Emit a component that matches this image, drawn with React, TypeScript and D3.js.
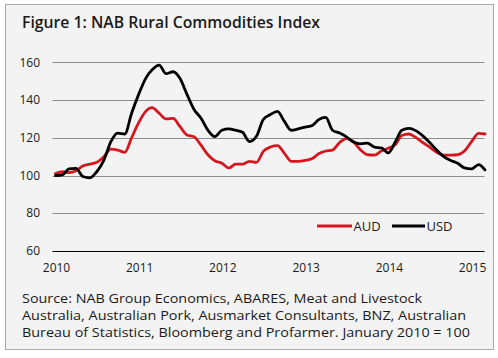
import React from 'react';
import * as d3 from 'd3';

// monthly index values, Jan 2010 to Mar 2015 (Jan 2010 = 100)
const months: Date[] = d3.timeMonth.range(new Date(2010, 0, 1), new Date(2015, 3, 1));

const aud = [
  101, 102, 101.5, 102.5, 105, 106, 107, 110, 114, 113.5, 112.3, 120,
  128, 134, 136, 133, 130, 130.3, 126, 121.5, 120.6, 116.2, 111, 107.8,
  106.5, 104, 106, 106, 107.5, 107, 112.8, 115.1, 115.8, 111.9, 107.5, 107.5,
  108, 109, 111.5, 113, 113.5, 117.5, 119.6, 117.8, 113.5, 111, 110.8, 113,
  114.5, 116.5, 121.2, 122, 120.2, 117.5, 115, 112.3, 110.8, 110.8, 111, 113,
  118, 122.3, 122,
];

const usd = [
  100, 100.4, 103.5, 103.8, 99.5, 98.8, 102, 108, 118, 122.5, 122, 133,
  143, 151.5, 156, 158.5, 154, 155, 151.5, 143, 135, 130.5, 124, 120.6,
  124, 124.7, 124, 122.9, 118, 120.8, 129.7, 132.3, 134, 128.8, 124, 124.7,
  125.7, 126.5, 129.6, 130.8, 124, 122.5, 120.5, 117.8, 116.8, 117.2, 115, 114.6,
  112, 118, 124, 125, 123.8, 121, 117.5, 113.5, 110, 108, 106.5, 104,
  103.5, 105.8, 103,
];

const yTicks = [60, 80, 100, 120, 140, 160];
const years = [2010, 2011, 2012, 2013, 2014, 2015];

const title = 'Figure 1: NAB Rural Commodities Index';
const sourceLines = [
  'Source: NAB Group Economics, ABARES, Meat and Livestock',
  'Australia, Australian Pork, Ausmarket Consultants, BNZ, Australian',
  'Bureau of Statistics, Bloomberg and Profarmer. January 2010 = 100',
];
const sourceWidths = [400, 444, 448];

const series = [
  { name: 'AUD', values: aud, color: '#d4161e' },
  { name: 'USD', values: usd, color: '#000000' },
];

const W = 498;
const H = 358;
const font = '"Open Sans", "Noto Sans", sans-serif';

const App: React.FC = () => {
  const x = d3.scaleTime()
    .domain([months[0], months[months.length - 1]])
    .range([55.5, 485]);

  const y = d3.scaleLinear()
    .domain([60, 160])
    .range([251, 62.3]);

  const line = d3.line<number>()
    .x((_, i) => x(months[i]))
    .y(d => y(d))
    .curve(d3.curveMonotoneX);

  const gridLeft = 52.5;
  const gridRight = 484.5;

  return (
    <svg width={W} height={H} viewBox={`0 0 ${W} ${H}`}
      style={{ position: 'absolute', left: 0, top: 0, display: 'block' }}
      fontFamily={font}>
      <rect x={0} y={0} width={W} height={H} fill="#ffffff" />
      <rect x={5.5} y={4.5} width={488} height={345} fill="#f3f3f3" stroke="#a9a9a9" />

      <text x={22} y={27.5} fontSize={15.5} fontWeight={600} fill="#1a1a1a"
        textLength={298} lengthAdjust="spacingAndGlyphs">{title}</text>

      {yTicks.map(t => (
        <g key={t}>
          <line x1={gridLeft} x2={gridRight} y1={Math.round(y(t)) + 0.5} y2={Math.round(y(t)) + 0.5}
            stroke={t === 60 ? '#000' : '#8c8c8c'} strokeWidth={t === 60 ? 1.2 : 1} />
          <text x={40} y={y(t)} dy="0.35em" textAnchor="end" fontSize={12} fill="#1a1a1a">{t}</text>
        </g>
      ))}

      {years.map(yr => (
        <text key={yr} x={x(new Date(yr, 0, 1)) + 1} y={272} textAnchor="middle" fontSize={12}
          fill="#1a1a1a">{yr}</text>
      ))}

      {series.map(s => (
        <path key={s.name} d={line(s.values) ?? ''} fill="none" stroke={s.color}
          strokeWidth={2.8} strokeLinejoin="round" strokeLinecap="round" />
      ))}

      {/* legend */}
      <line x1={317} x2={352} y1={226} y2={226} stroke={series[0].color} strokeWidth={3} />
      <text x={353.5} y={230.8} fontSize={13} fill="#1a1a1a">AUD</text>
      <line x1={392} x2={425} y1={226} y2={226} stroke={series[1].color} strokeWidth={3} />
      <text x={426.5} y={230.8} fontSize={13} fill="#1a1a1a">USD</text>

      {sourceLines.map((l, i) => (
        <text key={i} x={22} y={303} dy={i * 17} fontSize={13} fill="#1a1a1a"
          textLength={sourceWidths[i]} lengthAdjust="spacingAndGlyphs">{l}</text>
      ))}
    </svg>
  );
};

export default App;
